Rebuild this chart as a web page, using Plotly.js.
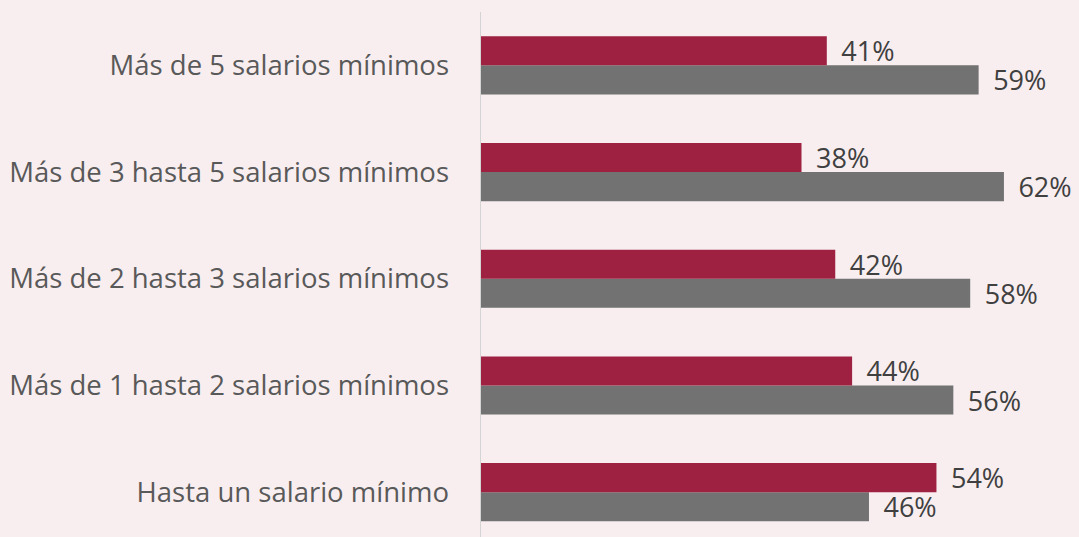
<!DOCTYPE html>
<html>
<head>
<meta charset="utf-8">
<script src="https://cdn.plot.ly/plotly-3.0.1.min.js"></script>
<style>html,body{margin:0;padding:0;background:#f8eef0;}#chart{width:1079px;height:537px;}</style>
</head>
<body>
<div id="chart"></div>
<script>
const categories = [
  "Hasta un salario mínimo",
  "Más de 1 hasta 2 salarios mínimos",
  "Más de 2 hasta 3 salarios mínimos",
  "Más de 3 hasta 5 salarios mínimos",
  "Más de 5 salarios mínimos"
];
const seriesCrimson = [54, 44, 42, 38, 41];
const seriesGray = [46, 56, 58, 62, 59];

const labelFont = {family: "Open Sans, sans-serif", size: 27, color: "#404040"};

const traces = [
  {
    type: "bar", orientation: "h", name: "Gris",
    y: categories, x: seriesGray,
    marker: {color: "#717271"},
    texttemplate: "\u00a0\u2009%{x}%", textposition: "outside", constraintext: "none",
    textfont: labelFont, cliponaxis: false, hoverinfo: "none"
  },
  {
    type: "bar", orientation: "h", name: "Guinda",
    y: categories, x: seriesCrimson,
    marker: {color: "#9e2141"},
    texttemplate: "\u00a0\u2009%{x}%", textposition: "outside", constraintext: "none",
    textfont: labelFont, cliponaxis: false, hoverinfo: "none"
  }
];

const layout = {
  width: 1079, height: 537,
  margin: {l: 481, r: 0, t: 12, b: 0, pad: 0},
  paper_bgcolor: "#f8eef0", plot_bgcolor: "rgba(0,0,0,0)",
  barmode: "group", bargap: 0.455, bargroupgap: 0,
  showlegend: false,
  xaxis: {range: [0, 70.9], visible: false, fixedrange: true},
  yaxis: {
    type: "category", range: [-0.42, 4.5],
    showline: true, linecolor: "#d4d4d4", linewidth: 1.5,
    showgrid: false, zeroline: false, ticks: "",
    ticklabelstandoff: 25,
    tickfont: {family: "Open Sans, sans-serif", size: 27.5, color: "#595959"}
  },
  font: {family: "Open Sans, sans-serif"}
};

Plotly.newPlot("chart", traces, layout, {displayModeBar: false, staticPlot: true});
</script>
</body>
</html>
